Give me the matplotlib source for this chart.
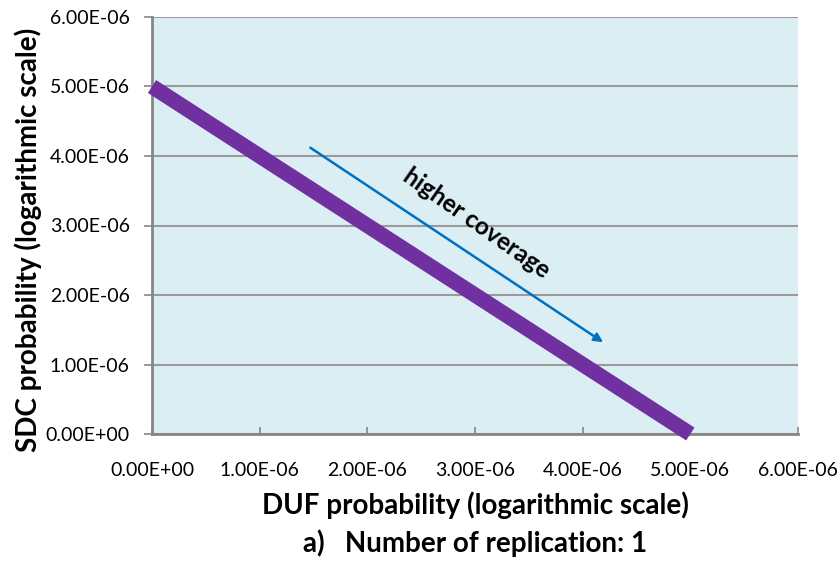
import matplotlib
matplotlib.use("Agg")
import matplotlib.pyplot as plt
from matplotlib.ticker import FixedLocator

# Data
duf = [0.0, 5.0e-6]
sdc = [5.0e-6, 0.0]
arrow_start = (1.47e-6, 4.12e-6)
arrow_end = (4.19e-6, 1.32e-6)
ticks = [0, 1e-6, 2e-6, 3e-6, 4e-6, 5e-6, 6e-6]
tick_labels = ["0.00E+00", "1.00E-06", "2.00E-06", "3.00E-06", "4.00E-06", "5.00E-06", "6.00E-06"]
xlabel = "DUF probability (logarithmic scale)"
ylabel = "SDC probability (logarithmic scale)"
title = "a)   Number of replication: 1"
annot = "higher coverage"

plt.rcParams['font.family'] = ['Lato', 'DejaVu Sans']

fig = plt.figure(figsize=(8.4, 5.62), dpi=100)
ax = fig.add_axes([152/840, 1-434/562, (798-152)/840, (434-17)/562])
ax.set_facecolor('#DBEEF4')
ax.set_xlim(0, 6e-6)
ax.set_ylim(0, 6e-6)

ax.xaxis.set_major_locator(FixedLocator(ticks))
ax.yaxis.set_major_locator(FixedLocator(ticks))
ax.set_xticklabels(tick_labels)
ax.set_yticklabels(tick_labels)

ax.grid(axis='y', color='#9A9A9A', linewidth=1.5, zorder=1)
ax.set_axisbelow(True)
for s in ['top', 'right']:
    ax.spines[s].set_visible(False)
for s in ['left', 'bottom']:
    ax.spines[s].set_color('#868686')
    ax.spines[s].set_linewidth(2)

ax.tick_params(axis='y', direction='out', length=6, width=1.2, color='#868686',
               labelsize=14, pad=10)
ax.tick_params(axis='x', direction='in', length=5, width=1.2, color='#868686',
               labelsize=14, pad=20)

ax.plot(duf, sdc, color='#7030A0', linewidth=11, solid_capstyle='butt', zorder=3,
        clip_on=False)

ax.annotate('', xy=arrow_end, xytext=arrow_start,
            arrowprops=dict(arrowstyle='-|>', color='#0070C0', lw=1.8,
                            mutation_scale=13, shrinkA=0, shrinkB=0), zorder=4)
ax.text(3.01e-6, 3.03e-6, annot, rotation=-35, rotation_mode='anchor',
        ha='center', va='center', fontsize=17.5, fontweight='bold', color='black', zorder=5)

fig.text(28/840, 1-240/562, ylabel, rotation=90, ha='center', va='center',
         fontsize=20, fontweight='bold')
fig.text(475/840, 1-505/562, xlabel, ha='center', va='center',
         fontsize=20, fontweight='bold')
fig.text(475/840, 1-543/562, title, ha='center', va='center',
         fontsize=20, fontweight='bold')

fig.savefig('out.png', dpi=100)
